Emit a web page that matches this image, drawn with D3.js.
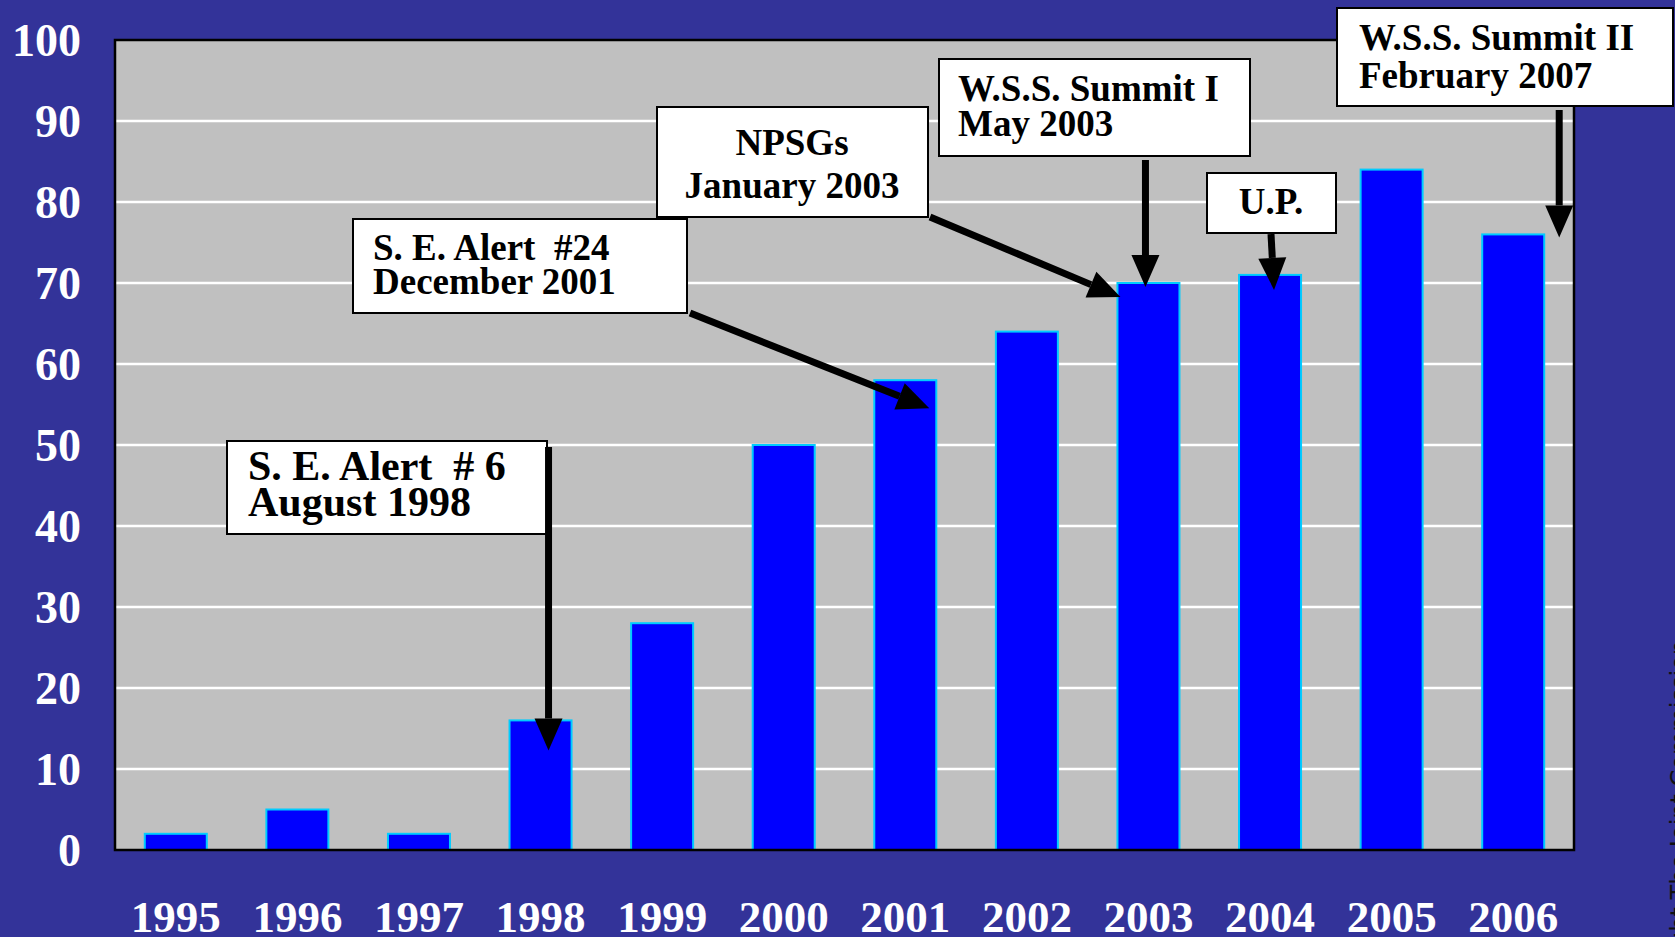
<!DOCTYPE html>
<html>
<head>
<meta charset="utf-8">
<script src="https://cdn.jsdelivr.net/npm/d3@7"></script>
<style>
  html, body { margin: 0; padding: 0; background: #333399; overflow: hidden; }
  svg text { font-family: "Liberation Serif", "Times New Roman", serif; font-weight: bold; white-space: pre; }
</style>
</head>
<body>
<script>
// data
const years = ["1995", "1996", "1997", "1998", "1999", "2000", "2001", "2002", "2003", "2004", "2005", "2006"];
const counts = [2, 5, 2, 16, 28, 50, 58, 64, 70, 71, 84, 76];
const yTicks = [0, 10, 20, 30, 40, 50, 60, 70, 80, 90, 100];

// callout texts and the bar each one points at
const noteLines = [
  ["S. E. Alert  # 6", "August 1998"],
  ["S. E. Alert  #24", "December 2001"],
  ["NPSGs", "January 2003"],
  ["W.S.S. Summit I", "May 2003"],
  ["U.P."],
  ["W.S.S. Summit II", "February 2007"]
];
const noteYears = ["1998", "2001", "2003", "2003", "2004", "2006"];

// page layout
const W = 1675, H = 937;
const plot = { left: 115, top: 40, right: 1574, bottom: 850 };

const svg = d3.select("body").append("svg")
    .attr("width", W)
    .attr("height", H);

svg.append("rect")
    .attr("width", W).attr("height", H)
    .attr("fill", "#333399");

const x = d3.scaleBand()
    .domain(years)
    .range([plot.left, plot.right])
    .paddingInner(0.49)
    .paddingOuter(0.245);

const y = d3.scaleLinear()
    .domain([0, 100])
    .range([plot.bottom, plot.top]);

// plot background
svg.append("rect")
    .attr("x", plot.left).attr("y", plot.top)
    .attr("width", plot.right - plot.left)
    .attr("height", plot.bottom - plot.top)
    .attr("fill", "#c0c0c0");

// gridlines
svg.append("g")
  .selectAll("line")
    .data(yTicks.filter(d => d > 0 && d < 100))
  .enter().append("line")
    .attr("x1", plot.left).attr("x2", plot.right)
    .attr("y1", d => y(d)).attr("y2", d => y(d))
    .attr("stroke", "#ffffff")
    .attr("stroke-width", 2.5);

// bars
svg.append("g")
  .selectAll("rect")
    .data(counts)
  .enter().append("rect")
    .attr("x", (d, i) => x(years[i]))
    .attr("y", d => y(d))
    .attr("width", x.bandwidth())
    .attr("height", d => y(0) - y(d))
    .attr("fill", "#0000ff")
    .attr("stroke", "#00ccff")
    .attr("stroke-width", 2);

// frame
svg.append("rect")
    .attr("x", plot.left).attr("y", plot.top)
    .attr("width", plot.right - plot.left)
    .attr("height", plot.bottom - plot.top)
    .attr("fill", "none")
    .attr("stroke", "#000")
    .attr("stroke-width", 2.5);

// y axis labels
svg.append("g")
  .selectAll("text")
    .data(yTicks)
  .enter().append("text")
    .attr("x", 81)
    .attr("y", d => y(d) + 16)
    .attr("text-anchor", "end")
    .attr("fill", "#fff")
    .style("font-size", "46px")
    .text(d => d);

// x axis labels
svg.append("g")
  .selectAll("text")
    .data(years)
  .enter().append("text")
    .attr("x", d => x(d) + x.bandwidth() / 2)
    .attr("y", 932)
    .attr("text-anchor", "middle")
    .attr("fill", "#fff")
    .style("font-size", "45px")
    .text(d => d);

// callout boxes: box, text position, line spacing, arrow start and tip offset from bar top
const noteLayout = [
  { box: [227, 441, 320, 93], tx: 248, ty: 480, lh: 36, fs: 42, anchor: "start", from: [null, 447], tip: [8, 30] },
  { box: [353, 219, 334, 94], tx: 373, ty: 260, lh: 34, fs: 37, anchor: "start", from: [690, 313], tip: [24, 28] },
  { box: [657, 107, 271, 110], tx: 792, ty: 155, lh: 43, fs: 37, anchor: "middle", from: [930, 217], tip: [-28, 14] },
  { box: [939, 59, 311, 97], tx: 958, ty: 101, lh: 35, fs: 37, anchor: "start", from: [null, 160], tip: [-3, 4] },
  { box: [1207, 173, 129, 60], tx: 1271, ty: 214, lh: 0, fs: 37, anchor: "middle", from: [1271, 234], tip: [4, 15] },
  { box: [1337, 8, 336, 98], tx: 1359, ty: 50, lh: 38, fs: 37, anchor: "start", from: [null, 110], tip: [46, 3] }
];

function arrow(g, x1, y1, x2, y2) {
  const a = Math.atan2(y2 - y1, x2 - x1);
  const headLen = 32, half = 14;
  const bx = x2 - headLen * Math.cos(a), by = y2 - headLen * Math.sin(a);
  g.append("line")
      .attr("x1", x1).attr("y1", y1)
      .attr("x2", bx).attr("y2", by)
      .attr("stroke", "#000")
      .attr("stroke-width", 7);
  const px = -Math.sin(a) * half, py = Math.cos(a) * half;
  g.append("path")
      .attr("d", d3.line()([[x2, y2], [bx + px, by + py], [bx - px, by - py]]) + "Z")
      .attr("fill", "#000");
}

const notes = svg.append("g");
noteLayout.forEach((n, i) => {
  const yr = noteYears[i];
  const val = counts[years.indexOf(yr)];
  const tipX = x(yr) + x.bandwidth() / 2 + n.tip[0];
  const tipY = y(val) + n.tip[1];
  const startX = n.from[0] === null ? tipX : n.from[0];

  notes.append("rect")
      .attr("x", n.box[0]).attr("y", n.box[1])
      .attr("width", n.box[2]).attr("height", n.box[3])
      .attr("fill", "#fff")
      .attr("stroke", "#000")
      .attr("stroke-width", 2);

  arrow(notes, startX, n.from[1], tipX, tipY);

  const t = notes.append("text")
      .attr("text-anchor", n.anchor)
      .attr("fill", "#000")
      .style("font-size", n.fs + "px");
  noteLines[i].forEach((line, k) => {
    t.append("tspan")
        .attr("x", n.tx)
        .attr("y", n.ty + k * n.lh)
        .text(line);
  });
});

// clipped copyright note on the right edge
svg.append("text")
    .attr("transform", "translate(1688,640) rotate(-90)")
    .attr("text-anchor", "end")
    .attr("fill", "#111")
    .style("font-family", "'DejaVu Sans', sans-serif")
    .style("font-weight", "normal")
    .style("font-size", "24px")
    .text("© Copyright The Joint Commission");
</script>
</body>
</html>
